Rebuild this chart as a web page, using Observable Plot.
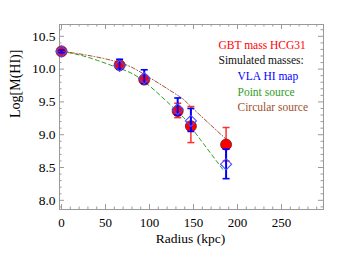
<!DOCTYPE html>
<html><head><meta charset="utf-8">
<script src="https://cdn.jsdelivr.net/npm/d3@7"></script>
<script src="https://cdn.jsdelivr.net/npm/@observablehq/plot@0.6"></script>
<style>body{margin:0;background:#fff} svg, svg text{font-family:"Liberation Serif","DejaVu Serif",serif !important;}</style>
</head><body><div id="chart"></div>
<script>
// Observations / simulations
const radius   = [0, 66, 94, 132, 147, 187];
const gbtMass  = [10.27, 10.06, 9.84, 9.36, 9.13, 8.85];
const gbtLow   = [10.24, 10.00, 9.79, 9.26, 8.88, 8.60];
const gbtHigh  = [10.30, 10.10, 9.90, 9.48, 9.43, 9.11];
const vlaMass  = [10.27, 10.05, 9.86, 9.39, 9.21, 8.55];
const vlaLow   = [10.25, 10.00, 9.78, 9.30, 9.05, 8.33];
const vlaHigh  = [10.29, 10.15, 9.99, 9.56, 9.40, 8.78];
// Model curves
const pointR    = [0, 30, 66, 94, 132, 147, 185];
const pointMass = [10.27, 10.18, 10.01, 9.81, 9.35, 9.12, 8.44];
const circR     = [0, 30, 66, 94, 132, 147, 188];
const circMass  = [10.27, 10.21, 10.10, 9.92, 9.60, 9.43, 8.92];
// Axis ticks
const xMajor = [0, 50, 100, 150, 200, 250];
const xMinor = d3.range(10, 300, 10).filter(v => v % 50 !== 0);
const yMajor = [8.0, 8.5, 9.0, 9.5, 10.0, 10.5];
const yMinor = d3.range(79, 107).map(v => v / 10).filter(v => Math.round(v * 10) % 5 !== 0);
// Legend
const legendLabels = ["GBT mass HCG31", "Simulated masses:", "VLA HI map", "Point source", "Circular source"];
const legendColors = ["#ff0000", "#111111", "#0000ff", "#2e9e1e", "#a0522d"];

const obs = radius.map((r, i) => ({r, gbt: gbtMass[i], gl: gbtLow[i], gh: gbtHigh[i], vla: vlaMass[i], vl: vlaLow[i], vh: vlaHigh[i]}));
const pointLine = pointR.map((r, i) => ({r, m: pointMass[i]}));
const circLine = circR.map((r, i) => ({r, m: circMass[i]}));

const cap = {draw(ctx, size) { const r = Math.sqrt(size / Math.PI); ctx.moveTo(-r, 0); ctx.lineTo(r, 0); }};
const W = 346, H = 260, mL = 59, mR = 23, mT = 24, mB = 51;
const fw = W - mL - mR, fh = H - mT - mB;
const gray = "#9a9a9a";
const serif = "'Liberation Serif', 'DejaVu Serif', serif";

const chart = Plot.plot({
  width: W, height: H,
  marginLeft: mL, marginRight: mR, marginTop: mT, marginBottom: mB,
  style: {fontFamily: serif, fontSize: "14px", color: "#000", background: "#fff"},
  x: {domain: [-2.3, 297.7], label: null},
  y: {domain: [7.86, 10.68], label: null},
  marks: [
    Plot.frame({stroke: gray}),
    // ticks: bottom/top/left/right
    Plot.ruleX(xMajor, {x: d => d, insetTop: fh - 5, stroke: gray}),
    Plot.ruleX(xMinor, {x: d => d, insetTop: fh - 2.5, stroke: gray}),
    Plot.ruleX(xMajor, {x: d => d, insetBottom: fh - 5, stroke: gray}),
    Plot.ruleX(xMinor, {x: d => d, insetBottom: fh - 2.5, stroke: gray}),
    Plot.ruleY(yMajor, {y: d => d, insetRight: fw - 5, stroke: gray}),
    Plot.ruleY(yMinor, {y: d => d, insetRight: fw - 2.5, stroke: gray}),
    Plot.ruleY(yMajor, {y: d => d, insetLeft: fw - 5, stroke: gray}),
    Plot.ruleY(yMinor, {y: d => d, insetLeft: fw - 2.5, stroke: gray}),
    Plot.axisX(xMajor, {tickSize: 0, tickPadding: 8, tickFormat: d => String(d), label: null, fontSize: 13, fontFamily: serif}),
    Plot.axisY(yMajor, {tickSize: 0, tickPadding: 4, tickFormat: d3.format(".1f"), label: null, fontSize: 13.5, fontFamily: serif}),
    Plot.text(["Radius (kpc)"], {text: d => d, frameAnchor: "bottom", dy: 33, fontSize: 13.5, dx: -1, fontFamily: serif}),
    Plot.text(["Log[M(HI)]"], {text: d => d, frameAnchor: "left", dx: -44, dy: 1, rotate: -90, fontSize: 14, fontFamily: serif}),
    // model curves
    Plot.line(pointLine, {x: "r", y: "m", curve: "natural", stroke: "#2e9e1e", strokeWidth: 1, strokeDasharray: "4,3"}),
    Plot.line(circLine, {x: "r", y: "m", curve: "natural", stroke: "#a0522d", strokeWidth: 1, strokeDasharray: "4,2,1,2"}),
    // GBT error bars + points
    Plot.ruleX(obs, {x: "r", y1: "gl", y2: "gh", stroke: "#ff3030", strokeWidth: 1.5}),
    Plot.dot(obs, {x: "r", y: "gl", symbol: cap, r: 3.5, stroke: "#ff3030", fill: "none", strokeWidth: 1.5}),
    Plot.dot(obs, {x: "r", y: "gh", symbol: cap, r: 3.5, stroke: "#ff3030", fill: "none", strokeWidth: 1.5}),
    Plot.dot(obs, {x: "r", y: "gbt", r: 5.5, fill: "#ff0000", stroke: "#7a1010", strokeWidth: 0.8}),
    // VLA error bars + diamonds
    Plot.ruleX(obs, {x: "r", y1: "vl", y2: "vh", stroke: "#0000ff", strokeWidth: 2}),
    Plot.dot(obs, {x: "r", y: "vl", symbol: cap, r: 3.5, stroke: "#0000ff", fill: "none", strokeWidth: 1.6}),
    Plot.dot(obs, {x: "r", y: "vh", symbol: cap, r: 3.5, stroke: "#0000ff", fill: "none", strokeWidth: 1.6}),
    Plot.dot(obs, {x: "r", y: "vla", symbol: "diamond2", r: 5, stroke: "#4a4aff", fill: "none", strokeWidth: 1.1}),
    // legend
    ...legendLabels.map((t, i) => Plot.text([t], {
      text: d => d, frameAnchor: "top-left", textAnchor: "start",
      dx: i < 2 ? 159 : 178, dy: [16.7, 31.7, 47.7, 63.3, 78.7][i],
      fill: legendColors[i], fontSize: 11.5, fontFamily: serif
    }))
  ]
});
document.getElementById("chart").appendChild(chart);
</script>
</body></html>
